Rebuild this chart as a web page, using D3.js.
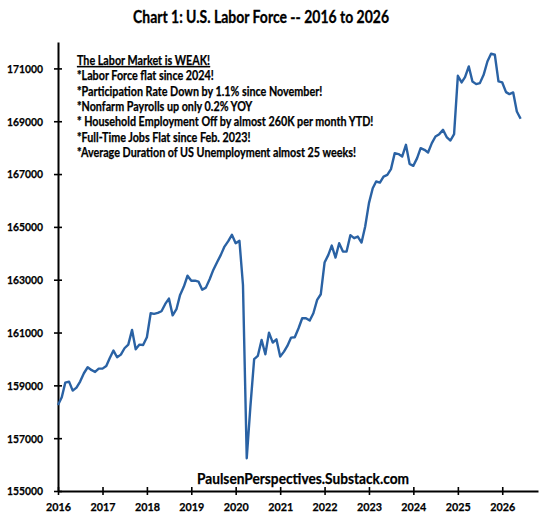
<!DOCTYPE html>
<html>
<head>
<meta charset="utf-8">
<script src="https://cdn.jsdelivr.net/npm/d3@7"></script>
<style>
  body { margin: 0; background: #fff; }
  text { font-family: "Lato", "Open Sans", sans-serif; font-weight: bold; }
</style>
</head>
<body>
<svg id="chart" width="560" height="523"></svg>
<script>
// civilian labor force, thousands, monthly from Jan 2016
var lf2016 = [158258, 158548, 159104, 159142, 158801, 158914, 159142, 159458, 159685, 159584, 159508, 159634];
var lf2017 = [159634, 159735, 160026, 160316, 160064, 160164, 160405, 160543, 161099, 160366, 160543, 160530];
var lf2018 = [160822, 161731, 161705, 161743, 161806, 162083, 162285, 161650, 161882, 162424, 162740, 163150];
var lf2019 = [162960, 162966, 162930, 162620, 162700, 163019, 163371, 163663, 163940, 164254, 164459, 164700];
var lf2020 = [164380, 164470, 162800, 156240, 158195, 159990, 160114, 160720, 160178, 160997, 160618, 160745];
var lf2021 = [160088, 160278, 160493, 160808, 160822, 161162, 161541, 161541, 161452, 161731, 162235, 162450];
var lf2022 = [163650, 163940, 164293, 163838, 164383, 164065, 164065, 164686, 164572, 164633, 164406, 165012];
var lf2023 = [165900, 166465, 166717, 166679, 166906, 166970, 167186, 167792, 167755, 167664, 168106, 167387];
var lf2024 = [167311, 167603, 167982, 167917, 167815, 168170, 168422, 168511, 168674, 168400, 168270, 168510];
var lf2025 = [170720, 170468, 170670, 171074, 170506, 170405, 170443, 170758, 171263, 171554, 171516, 170506];
var lf2026 = [170468, 170103, 170027, 170090, 169370, 169092];

var yTicks = [155000, 157000, 159000, 161000, 163000, 165000, 167000, 169000, 171000];
var xYears = [2016, 2017, 2018, 2019, 2020, 2021, 2022, 2023, 2024, 2025, 2026];

var title = "Chart 1: U.S. Labor Force -- 2016 to 2026";
var noteHead = "The Labor Market is WEAK!";
var noteLines = [
  "*Labor Force flat since 2024!",
  "*Participation Rate Down by 1.1% since November!",
  "*Nonfarm Payrolls up only 0.2% YOY",
  "* Household Employment Off by almost 260K per month YTD!",
  "*Full-Time Jobs Flat since Feb. 2023!",
  "*Average Duration of US Unemployment almost 25 weeks!"
];
var source = "PaulsenPerspectives.Substack.com";

var allYears = [lf2016, lf2017, lf2018, lf2019, lf2020, lf2021, lf2022, lf2023, lf2024, lf2025, lf2026];
var data = [];
allYears.forEach(function(arr, i) {
  arr.forEach(function(v, m) {
    data.push({date: new Date(2016 + i, m, 1), value: v});
  });
});

var margin = {top: 42, left: 58, right: 22, bottom: 32};
var W = 560, H = 523;

var svg = d3.select("#chart");

var x = d3.scaleTime()
  .domain([new Date(2016, 0, 1), new Date(2026, 9, 22)])
  .range([margin.left, W - margin.right]);

var y = d3.scaleLinear()
  .domain([155000, 172000])
  .range([H - margin.bottom, margin.top]);

// squeeze text horizontally by factor k (the original uses a narrower face)
function squeeze(sel, k) {
  sel.each(function() {
    var len = this.getComputedTextLength();
    d3.select(this)
      .attr("textLength", len * k)
      .attr("lengthAdjust", "spacingAndGlyphs");
  });
}

// title
var titleText = svg.append("text")
  .attr("x", 261)
  .attr("y", 23)
  .attr("text-anchor", "middle")
  .style("font-size", "16.5px")
  .style("stroke", "#000")
  .style("stroke-width", 0.3)
  .text(title);
titleText.call(squeeze, 256 / titleText.node().getComputedTextLength());

// y axis
var yAxis = svg.append("g")
  .attr("transform", "translate(" + margin.left + ",0)")
  .call(d3.axisLeft(y).tickValues(yTicks).tickFormat(d3.format("d")).tickSize(0).tickPadding(15));
yAxis.select(".domain").attr("stroke", "#000").attr("stroke-width", 2);
yAxis.selectAll(".tick line").attr("x1", -4).attr("x2", 4).attr("stroke", "#000").attr("stroke-width", 1.6);
yAxis.selectAll(".tick text").style("font-size", "12px").attr("fill", "#000")
  .style("stroke", "#000").style("stroke-width", 0.25);
yAxis.selectAll(".tick text").call(squeeze, 36 / yAxis.select(".tick text").node().getComputedTextLength());

// x axis
var xAxis = svg.append("g")
  .attr("transform", "translate(0," + y(155000) + ")")
  .call(d3.axisBottom(x)
    .tickValues(xYears.map(function(d) { return new Date(d, 0, 1); }))
    .tickFormat(d3.timeFormat("%Y"))
    .tickSize(0).tickPadding(11));
xAxis.select(".domain").attr("stroke", "#000").attr("stroke-width", 2);
xAxis.selectAll(".tick line").attr("y1", -4).attr("y2", 4).attr("stroke", "#000").attr("stroke-width", 1.6);
xAxis.selectAll(".tick text").style("font-size", "12px").attr("fill", "#000")
  .style("stroke", "#000").style("stroke-width", 0.25);
xAxis.selectAll(".tick text").call(squeeze, 25 / xAxis.select(".tick text").node().getComputedTextLength());

// line
var line = d3.line()
  .x(function(d) { return x(d.date); })
  .y(function(d) { return y(d.value); });

svg.append("path")
  .datum(data)
  .attr("fill", "none")
  .attr("stroke", "#2A62A4")
  .attr("stroke-width", 2.4)
  .attr("stroke-linejoin", "round")
  .attr("d", line);

// notes
var notes = svg.append("g").attr("transform", "translate(77,65)");
notes.append("text")
  .attr("class", "head")
  .attr("x", 0).attr("y", 0)
  .style("text-decoration", "underline")
  .text(noteHead);
notes.selectAll(".note")
  .data(noteLines)
  .enter().append("text")
  .attr("class", "note")
  .attr("x", 0)
  .attr("y", function(d, i) { return (i + 1) * 15.3; })
  .text(function(d) { return d; });
notes.selectAll("text")
  .style("font-size", "12.5px")
  .style("stroke", "#000")
  .style("stroke-width", 0.25);

// same squeeze for every line so the longest matches the original width
var longest = notes.selectAll(".note").filter(function(d, i) { return i === 5; }).node();
notes.selectAll("text").call(squeeze, 279 / longest.getComputedTextLength());

// source
var src = svg.append("text")
  .attr("x", 197)
  .attr("y", 484)
  .style("font-size", "15px")
  .style("stroke", "#000")
  .style("stroke-width", 0.25)
  .text(source);
src.call(squeeze, 212 / src.node().getComputedTextLength());
</script>
</body>
</html>
